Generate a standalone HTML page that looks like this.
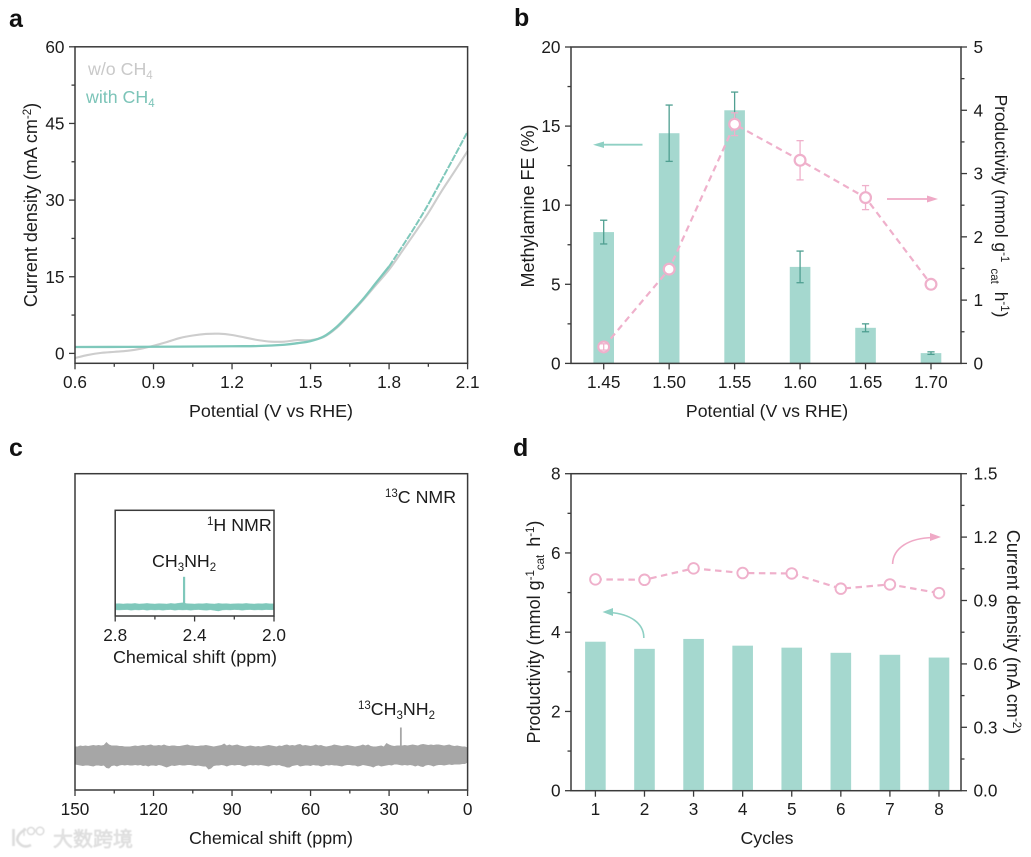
<!DOCTYPE html>
<html lang="en">
<head>
<meta charset="utf-8">
<title>Electrocatalysis four-panel figure</title>
<style>
html,body{margin:0;padding:0;background:#fff;width:1031px;height:857px;overflow:hidden}
svg{display:block;filter:blur(.3px)}
text{font-family:"Liberation Sans","Noto Sans CJK SC",sans-serif;fill:#1c1c1c;font-size:17.2px}
.pl{font-size:25px;font-weight:bold;fill:#111}
.wm{font-family:"Liberation Sans","Noto Sans CJK SC",sans-serif;font-size:20px;font-weight:normal;fill:#e4e4e4;stroke:#d4d4d4;stroke-width:.5px}
.s{font-size:11.5px}
</style>
</head>
<body>
<svg id="chart" xmlns="http://www.w3.org/2000/svg" width="1031" height="857" viewBox="0 0 1031 857">
  <rect x="0" y="0" width="1031" height="857" fill="#fff"/>

  <g id="pa"></g>
  <g id="pb"></g>
  <g id="pc"></g>
  <g id="pd"></g>

  <text class="pl" x="9" y="27">a</text>
  <text class="pl" x="514" y="26">b</text>
  <text class="pl" x="9" y="456">c</text>
  <text class="pl" x="513" y="456">d</text>

  <!-- Panel a labels -->
  <text x="271" y="417" text-anchor="middle" style="font-size:17.9px">Potential (V vs RHE)</text>
  <text transform="translate(37 205) rotate(-90)" text-anchor="middle" style="font-size:18px">Current density (mA cm<tspan class="s" dy="-6">-2</tspan><tspan dy="6">)</tspan></text>
  <text x="88" y="75" style="fill:#c9c9c9;font-size:17.8px">w/o CH<tspan class="s" dy="4" style="fill:#c9c9c9">4</tspan></text>
  <text x="86" y="103" style="fill:#7cc4b8;font-size:17.8px">with CH<tspan class="s" dy="4" style="fill:#7cc4b8">4</tspan></text>

  <!-- Panel b labels -->
  <text x="767" y="417" text-anchor="middle" style="font-size:17.7px">Potential (V vs RHE)</text>
  <text transform="translate(534 206) rotate(-90)" text-anchor="middle" style="font-size:18px">Methylamine FE (%)</text>
  <text transform="translate(995 206) rotate(90)" text-anchor="middle" style="font-size:17.4px">Productivity (mmol g<tspan class="s" dy="-6">-1</tspan><tspan class="s" dy="10" dx="3"> cat</tspan><tspan dy="-4" dx="3"> h</tspan><tspan class="s" dy="-6">-1</tspan><tspan dy="6">)</tspan></text>

  <!-- Panel c labels -->
  <text x="271" y="844" text-anchor="middle" style="font-size:17.9px">Chemical shift (ppm)</text>
  <text x="385" y="503" style="font-size:17.8px"><tspan class="s" dy="-6">13</tspan><tspan dy="6">C NMR</tspan></text>
  <text x="207" y="531" style="font-size:17.8px"><tspan class="s" dy="-6">1</tspan><tspan dy="6">H NMR</tspan></text>
  <text x="152" y="567" style="font-size:17.8px">CH<tspan class="s" dy="4">3</tspan><tspan dy="-4">NH</tspan><tspan class="s" dy="4">2</tspan></text>
  <text x="358" y="715" style="font-size:17.8px"><tspan class="s" dy="-6">13</tspan><tspan dy="6">CH</tspan><tspan class="s" dy="4">3</tspan><tspan dy="-4">NH</tspan><tspan class="s" dy="4">2</tspan></text>
  <text x="195" y="663" text-anchor="middle" style="font-size:17.9px">Chemical shift (ppm)</text>

  <!-- Panel d labels -->
  <text x="767" y="844" text-anchor="middle" style="font-size:17.7px">Cycles</text>
  <text transform="translate(540 632) rotate(-90)" text-anchor="middle" style="font-size:18px">Productivity (mmol g<tspan class="s" dy="-6">-1</tspan><tspan class="s" dy="10">cat</tspan><tspan dy="-4" dx="3"> h</tspan><tspan class="s" dy="-6">-1</tspan><tspan dy="6">)</tspan></text>
  <text transform="translate(1007 632) rotate(90)" text-anchor="middle" style="font-size:18px">Current density (mA cm<tspan class="s" dy="-6">-2</tspan><tspan dy="6">)</tspan></text>

  <!-- Annotation arrows -->
  <g>
    <line x1="642.5" y1="144.7" x2="600" y2="144.7" stroke="#8fd0c4" stroke-width="1.8"/>
    <polygon points="593,144.7 604,141.5 604,148" fill="#8fd0c4"/>
  </g>
  <g>
    <line x1="887" y1="199" x2="931" y2="199" stroke="#efa9c6" stroke-width="1.8"/>
    <polygon points="938,199 927,195.5 927,202.5" fill="#efa9c6"/>
  </g>
  <g>
    <path d="M892.6 564 C893 548 909 538 933 537.5" fill="none" stroke="#efa9c6" stroke-width="1.6"/>
    <polygon points="941,537 930,533 930,541" fill="#efa9c6"/>
  </g>
  <g>
    <path d="M643.8 638 C644 623 630 614 610 612.5" fill="none" stroke="#8fd0c4" stroke-width="1.6"/>
    <polygon points="602.5,612 613,608 613,616" fill="#8fd0c4"/>
  </g>

  <!-- Watermark -->
  <g style="filter:blur(.5px)">
    <path d="M13.5 829 V846" fill="none" stroke="#dcdcdc" stroke-width="2.6"/>
    <path d="M26 829 C17 834 15 840 20 844 C23 847 27 847 31 845" fill="none" stroke="#dcdcdc" stroke-width="2.6"/>
    <line x1="24" y1="828" x2="24" y2="836" stroke="#dcdcdc" stroke-width="1.4"/>
    <circle cx="31" cy="831" r="3.6" fill="#fff" stroke="#d8d8d8" stroke-width="1.4"/>
    <circle cx="40" cy="831" r="3.8" fill="#fff" stroke="#d8d8d8" stroke-width="1.4"/>
    <text class="wm" x="53" y="846">大数跨境</text>
  </g>
</svg>

<script>
/* ---------- Panel a data ---------- */
const aPotentialNoCH4 = [0.6,0.65,0.7,0.75,0.8,0.85,0.9,0.95,1.0,1.05,1.1,1.15,1.2,1.25,1.3,1.35,1.4,1.45,1.5,1.55,1.6,1.65,1.7,1.75,1.8,1.85,1.9,1.95,2.0,2.05,2.1];
const aCurrentNoCH4   = [-0.9,-0.3,0.1,0.3,0.5,0.9,1.5,2.2,3.0,3.5,3.8,3.85,3.6,3.1,2.6,2.3,2.3,2.6,2.6,3.2,5.0,7.6,10.4,13.4,16.4,20.0,23.7,27.5,31.7,35.6,39.6];
const aPotentialCH4   = [0.6,0.8,1.0,1.2,1.3,1.4,1.45,1.5,1.55,1.6,1.65,1.7,1.75,1.8,1.85,1.9,1.95,2.0,2.05,2.1];
const aCurrentCH4     = [1.25,1.28,1.32,1.4,1.45,1.7,2.0,2.4,3.3,5.2,7.8,10.6,13.8,17.0,20.9,24.9,29.2,33.9,38.6,43.4];
const aXTicks = [0.6,0.9,1.2,1.5,1.8,2.1];
const aXMinor = [0.75,1.05,1.35,1.65,1.95];
const aYTicks = [0,15,30,45,60];
const aYMinor = [7.5,22.5,37.5,52.5];

/* ---------- Panel b data ---------- */
const bCategories = ["1.45","1.50","1.55","1.60","1.65","1.70"];
const bFE       = [8.3,14.55,16.0,6.1,2.25,0.65];
const bFEErr    = [0.75,1.78,1.15,1.0,0.25,0.08];
const bProd     = [0.26,1.49,3.78,3.21,2.62,1.25];
const bProdErr  = [0.05,0.05,0.18,0.31,0.19,0.03];
const bLeftTicks  = [0,5,10,15,20];
const bLeftMinor  = [2.5,7.5,12.5,17.5];
const bRightTicks = [0,1,2,3,4,5];
const bRightMinor = [0.5,1.5,2.5,3.5,4.5];

/* ---------- Panel c data (intensity in arbitrary units around the baseline) ---------- */
const cPpm = [150,149,148,147,146,145,144,143,142,141,
140,139,138,137,136,135,134,133,132,131,
130,129,128,127,126,125,124,123,122,121,
120,119,118,117,116,115,114,113,112,111,
110,109,108,107,106,105,104,103,102,101,
100,99,98,97,96,95,94,93,92,91,
90,89,88,87,86,85,84,83,82,81,
80,79,78,77,76,75,74,73,72,71,
70,69,68,67,66,65,64,63,62,61,
60,59,58,57,56,55,54,53,52,51,
50,49,48,47,46,45,44,43,42,41,
40,39,38,37,36,35,34,33,32,31,
30,29,28,27,26,25,24,23,22,21,
20,19,18,17,16,15,14,13,12,11,
10,9,8,7,6,5,4,3,2,1,0];
const cUpper = [9,9,10,9.5,10,9.5,10,10.5,10,10.5,
10,10.5,13.5,11,10,10,10,9.5,9.5,9,
9,9,9.5,10,9.5,10,10.5,10,10.5,11,
10,10,10.5,10,11,10,9.5,10,10,9.5,
9.5,10,10.5,11,10,10,9.5,9.5,10,10,
10.5,10,9.5,9,9.5,10,10.5,12,10,11,
10,10.5,11,10,9.5,9,9.5,10,9.5,9,
9.5,9,9.5,10,10.5,10,9.5,9,10,9.5,
10.5,11,10,10.5,10,11,11.5,10,10.5,10,
9.5,10,11,10,10.5,9.5,9,9.5,10,11,
10.5,10,9.5,10,10.5,10,9.5,9,9.5,10,
11,10,11,9.5,9,9,9.5,10,9,12.5,
11,10,9.5,10,10,10,10.5,10,10.5,11,
10.5,10,11,11.5,11,10.5,11,10.5,11,11,
10.5,10,10.5,11,10,9.5,10,9.5,9,9,8];
const cLower = [-9,-9.5,-10,-10.5,-10,-10,-10.5,-11,-10,-10,
-10.5,-10,-12.5,-13,-10.5,-10,-11,-10,-9.5,-10,
-9.5,-10,-10,-9.5,-10,-9.5,-10.5,-10,-11,-10,
-10,-10.5,-9.5,-10,-11,-12,-11,-10,-10.5,-10,
-9.5,-10,-10,-9.5,-9.5,-10,-10.5,-10,-10.5,-11,
-11,-14,-13,-10.5,-10,-10,-9.5,-10,-11,-10,
-9.5,-10,-9.5,-9.5,-10.5,-11,-10,-9.5,-10,-9.5,
-10,-9.5,-10,-10.5,-11,-10,-9.5,-10,-9.5,-10.5,
-11,-12,-12,-10.5,-10,-9.5,-11,-10.5,-10,-10,
-10.5,-9.5,-10,-10,-11,-10.5,-9.5,-10,-9.5,-10,
-10,-10.5,-11,-10,-9.5,-9.5,-10,-10,-11,-10.5,
-9.5,-10,-10.5,-11,-12,-10.5,-10,-11,-10.5,-10,
-9.5,-10,-9,-9,-9.5,-10,-9.5,-10,-9.5,-10,
-11,-10,-11,-11.5,-10,-9.5,-10,-11,-10,-9.5,
-9.5,-10,-9.5,-9,-9.5,-9,-9,-9,-8.5,-8.5,-7];
const cPeakPpm = [25.5];
const cPeakHeight = [28];
const cXTicks = [150,120,90,60,30,0];
const cXMinor = [135,105,75,45,15];

const insetPpm = [2.8,2.78,2.76,2.74,2.72,2.7,2.68,2.66,2.64,2.62,2.6,2.58,2.56,2.54,2.52,2.5,2.48,2.46,2.44,2.42,2.4,2.38,2.36,2.34,2.32,2.3,2.28,2.26,2.24,2.22,2.2,2.18,2.16,2.14,2.12,2.1,2.08,2.06,2.04,2.02,2.0];
const insetUpper = [3,3.2,2.8,3.2,3,3.4,2.8,3,3.4,3,2.8,3.2,3,2.8,3.4,3,3.6,4,3.2,3,2.8,3.2,3,3.4,3,2.8,3.4,3,3.2,2.8,3,3.2,3,3.4,3,2.8,3.2,3,3.4,3,3];
const insetLower = [-3,-3.2,-3,-2.8,-3.4,-3,-3.2,-2.8,-3.4,-3,-3.2,-3,-3.4,-3,-2.8,-3.4,-3,-3.2,-3,-3.4,-3,-2.8,-3.2,-3.4,-3,-3.6,-4.2,-3.2,-3,-3.2,-2.8,-3,-3.4,-3,-2.8,-3.2,-3,-3.2,-2.8,-3,-3];
const insetPeakPpm = [2.453];
const insetPeakHeight = [30];
const insetXTicks = [2.8,2.4,2.0];
const insetXMinor = [2.6,2.2];

/* ---------- Panel d data ---------- */
const dCycles = ["1","2","3","4","5","6","7","8"];
const dProd = [3.76,3.58,3.83,3.66,3.61,3.48,3.43,3.36];
const dCurrent = [1.0,0.998,1.052,1.03,1.028,0.956,0.976,0.935];
const dLeftTicks = [0,2,4,6,8];
const dLeftMinor = [1,3,5,7];
const dRightLabels = ["0.0","0.3","0.6","0.9","1.2","1.5"];
const dRightTicks = [0,0.3,0.6,0.9,1.2,1.5];
const dRightMinor = [0.15,0.45,0.75,1.05,1.35];

/* ---------- Helpers ---------- */
const NS = "http://www.w3.org/2000/svg";
const TEAL = "#7fc8bb", GREY = "#cdcdcd", BAR = "#a5d8cf", ERR = "#4f9f91", PINK = "#efb0cb", AX = "#3a3a3a";

function add(parent, tag, attrs, name, txt) {
  const el = document.createElementNS(NS, tag);
  for (const k in attrs) el.setAttribute(k, attrs[k]);
  
  
  if (txt !== undefined) el.textContent = txt;
  parent.appendChild(el);
  return el;
}
function linear(d0, d1, r0, r1) {
  return v => r0 + (v - d0) * (r1 - r0) / (d1 - d0);
}
function line(g, x1, y1, x2, y2, name, stroke, w) {
  return add(g, 'line', {x1, y1, x2, y2, stroke: stroke || AX, 'stroke-width': w || 1.3}, name);
}
function frame(g, box, name) {
  add(g, 'rect', {x: box.l, y: box.t, width: box.r - box.l, height: box.b - box.t, fill: 'none', stroke: AX, 'stroke-width': 1.5}, name);
}
function xTicks(g, vals, scale, y, len, labels, baseline, prefix) {
  vals.forEach((v, i) => {
    line(g, scale(v), y, scale(v), y + len, prefix + '-tick');
    if (labels) add(g, 'text', {x: scale(v), y: baseline, 'text-anchor': 'middle'}, prefix + '-tick-label', labels[i]);
  });
}
function yTicks(g, vals, scale, x, dir, len, labels, prefix) {
  vals.forEach((v, i) => {
    line(g, x, scale(v), x + dir * len, scale(v), prefix + '-tick');
    if (labels) add(g, 'text', {x: x + dir * (len + (dir < 0 ? 4.5 : 6.5)), y: scale(v) + 6, 'text-anchor': dir < 0 ? 'end' : 'start'}, prefix + '-tick-label', labels[i]);
  });
}
function pathFrom(xs, ys, sx, sy) {
  return xs.map((x, i) => (i ? 'L' : 'M') + sx(x).toFixed(2) + ' ' + sy(ys[i]).toFixed(2)).join(' ');
}
function smoothFrom(xs, ys, sx, sy) {
  const p = xs.map((x, i) => [sx(x), sy(ys[i])]);
  let d = 'M' + p[0][0].toFixed(2) + ' ' + p[0][1].toFixed(2);
  for (let i = 0; i < p.length - 1; i++) {
    const a = p[Math.max(i - 1, 0)], b = p[i], c = p[i + 1], e = p[Math.min(i + 2, p.length - 1)];
    const c1x = b[0] + (c[0] - a[0]) / 6, c1y = b[1] + (c[1] - a[1]) / 6;
    const c2x = c[0] - (e[0] - b[0]) / 6, c2y = c[1] - (e[1] - b[1]) / 6;
    d += ' C' + c1x.toFixed(2) + ' ' + c1y.toFixed(2) + ' ' + c2x.toFixed(2) + ' ' + c2y.toFixed(2) + ' ' + c[0].toFixed(2) + ' ' + c[1].toFixed(2);
  }
  return d;
}

/* ---------- Panel a ---------- */
(function () {
  const g = document.getElementById('pa');
  const box = {l: 75, r: 467.6, t: 46.8, b: 363.3};
  const x = linear(0.6, 2.1, box.l, box.r);
  const y = linear(0, 60, 353.4, 46.8);
  add(g, 'path', {d: smoothFrom(aPotentialNoCH4, aCurrentNoCH4, x, y), fill: 'none', stroke: GREY, 'stroke-width': 2.1, 'stroke-linejoin': 'round'}, 'curve-without-ch4');
  const split = aPotentialCH4.indexOf(1.8);
  add(g, 'path', {d: smoothFrom(aPotentialCH4.slice(0, split + 1), aCurrentCH4.slice(0, split + 1), x, y), fill: 'none', stroke: TEAL, 'stroke-width': 2.3, 'stroke-linejoin': 'round'}, 'curve-with-ch4');
  add(g, 'path', {d: smoothFrom(aPotentialCH4.slice(split), aCurrentCH4.slice(split), x, y), fill: 'none', stroke: TEAL, 'stroke-width': 2, 'stroke-dasharray': '7 1.2'}, 'curve-with-ch4-upper');
  frame(g, box, 'a-plot-frame');
  xTicks(g, aXTicks, x, box.b, 6, aXTicks.map(v => v.toFixed(1)), 388, 'a-x');
  xTicks(g, aXMinor, x, box.b, 3.5, null, 0, 'a-x-minor');
  yTicks(g, aYTicks, y, box.l, -1, 6, aYTicks.map(String), 'a-y');
  yTicks(g, aYMinor, y, box.l, -1, 3.5, null, 'a-y-minor');
})();

/* ---------- Panel b ---------- */
(function () {
  const g = document.getElementById('pb');
  const box = {l: 571, r: 961, t: 47, b: 363.4};
  const cx = linear(0, bCategories.length - 1, 603.7, 931);
  const yL = linear(0, 20, box.b, box.t);
  const yR = linear(0, 5, box.b, box.t);
  const bw = 20.6;
  bFE.forEach((v, i) => {
    add(g, 'rect', {x: cx(i) - bw / 2, y: yL(v), width: bw, height: box.b - yL(v), fill: BAR}, 'fe-bar-' + bCategories[i]);
  });
  bFE.forEach((v, i) => {
    const c = cx(i), hi = yL(v + bFEErr[i]), lo = yL(v - bFEErr[i]);
    line(g, c, hi, c, lo, 'fe-error-bar', ERR, 1.3);
    line(g, c - 3.6, hi, c + 3.6, hi, 'fe-error-cap', ERR, 1.3);
    line(g, c - 3.6, lo, c + 3.6, lo, 'fe-error-cap', ERR, 1.3);
  });
  add(g, 'path', {d: pathFrom(bProd.map((_, i) => i), bProd, cx, yR), fill: 'none', stroke: PINK, 'stroke-width': 2.2, 'stroke-dasharray': '6.5 4.5'}, 'productivity-line');
  function err(v, i) {
    const c = cx(i), hi = yR(v + bProdErr[i]), lo = yR(v - bProdErr[i]);
    line(g, c, hi, c, lo, 'productivity-error-bar', PINK, 1.3);
    line(g, c - 3.6, hi, c + 3.6, hi, 'productivity-error-cap', PINK, 1.3);
    line(g, c - 3.6, lo, c + 3.6, lo, 'productivity-error-cap', PINK, 1.3);
  }
  bProd.forEach((v, i) => {
    if (i > 0) err(v, i);
    add(g, 'circle', {cx: cx(i), cy: yR(v), r: 5.4, fill: '#fff', stroke: PINK, 'stroke-width': 2.2}, 'productivity-point-' + bCategories[i]);
    if (i === 0) err(v, i);
  });
  frame(g, box, 'b-plot-frame');
  bCategories.forEach((lab, i) => {
    line(g, cx(i), box.b, cx(i), box.b + 6, 'b-x-tick');
    add(g, 'text', {x: cx(i), y: 388, 'text-anchor': 'middle'}, 'b-x-tick-label', lab);
  });
  yTicks(g, bLeftTicks, yL, box.l, -1, 6, bLeftTicks.map(String), 'b-left');
  yTicks(g, bLeftMinor, yL, box.l, -1, 3.5, null, 'b-left-minor');
  yTicks(g, bRightTicks, yR, box.r, 1, 6, bRightTicks.map(String), 'b-right');
  yTicks(g, bRightMinor, yR, box.r, 1, 3.5, null, 'b-right-minor');
})();

/* ---------- Panel c ---------- */
(function () {
  const g = document.getElementById('pc');
  const box = {l: 75, r: 467.6, t: 473.7, b: 790};
  const x = linear(150, 0, box.l, box.r);
  const y = linear(0, 1, 755.5, 754.5);
  const rev = a => a.slice().reverse();
  const d = pathFrom(cPpm.concat(rev(cPpm)), cUpper.concat(rev(cLower)), x, y) + ' Z';
  add(g, 'path', {d: d, fill: '#a6a6a6'}, 'c13-spectrum');
  cPeakPpm.forEach((p, i) => {
    line(g, x(p), y(0), x(p), y(cPeakHeight[i]), 'c13-peak', '#a6a6a6', 1.8);
  });
  frame(g, box, 'c-plot-frame');
  xTicks(g, cXTicks, x, box.b, 6, cXTicks.map(String), 815, 'c-x');
  xTicks(g, cXMinor, x, box.b, 3.5, null, 0, 'c-x-minor');

  const inBox = {l: 115.2, r: 274, t: 510.3, b: 616};
  const ix = linear(2.8, 2.0, inBox.l, inBox.r);
  const iy = linear(0, 1, 606.8, 605.8);
  const d2 = pathFrom(insetPpm.concat(rev(insetPpm)), insetUpper.concat(rev(insetLower)), ix, iy) + ' Z';
  add(g, 'path', {d: d2, fill: TEAL, stroke: TEAL, 'stroke-width': .4}, 'h1-spectrum');
  insetPeakPpm.forEach((p, i) => {
    line(g, ix(p), iy(0), ix(p), iy(insetPeakHeight[i]), 'h1-peak', TEAL, 2.2);
  });
  frame(g, inBox, 'inset-plot-frame');
  xTicks(g, insetXTicks, ix, inBox.b, 5.5, insetXTicks.map(v => v.toFixed(1)), 641, 'inset-x');
  xTicks(g, insetXMinor, ix, inBox.b, 3.5, null, 0, 'inset-x-minor');
})();

/* ---------- Panel d ---------- */
(function () {
  const g = document.getElementById('pd');
  const box = {l: 571, r: 961, t: 473.7, b: 790.7};
  const cx = linear(0, dCycles.length - 1, 595.4, 939);
  const yL = linear(0, 8, box.b, box.t);
  const yR = linear(0, 1.5, box.b, box.t);
  const bw = 20.6;
  dProd.forEach((v, i) => {
    add(g, 'rect', {x: cx(i) - bw / 2, y: yL(v), width: bw, height: box.b - yL(v), fill: BAR}, 'productivity-bar-cycle-' + dCycles[i]);
  });
  add(g, 'path', {d: pathFrom(dCurrent.map((_, i) => i), dCurrent, cx, yR), fill: 'none', stroke: PINK, 'stroke-width': 2.2, 'stroke-dasharray': '6.5 4.5'}, 'current-density-line');
  dCurrent.forEach((v, i) => {
    add(g, 'circle', {cx: cx(i), cy: yR(v), r: 5.3, fill: '#fff', stroke: PINK, 'stroke-width': 1.9}, 'current-density-point-cycle-' + dCycles[i]);
  });
  frame(g, box, 'd-plot-frame');
  dCycles.forEach((lab, i) => {
    line(g, cx(i), box.b, cx(i), box.b + 6, 'd-x-tick');
    add(g, 'text', {x: cx(i), y: 815, 'text-anchor': 'middle'}, 'd-x-tick-label', lab);
  });
  yTicks(g, dLeftTicks, yL, box.l, -1, 6, dLeftTicks.map(String), 'd-left');
  yTicks(g, dLeftMinor, yL, box.l, -1, 3.5, null, 'd-left-minor');
  yTicks(g, dRightTicks, yR, box.r, 1, 6, dRightLabels, 'd-right');
  yTicks(g, dRightMinor, yR, box.r, 1, 3.5, null, 'd-right-minor');
})();
</script>
</body>
</html>
